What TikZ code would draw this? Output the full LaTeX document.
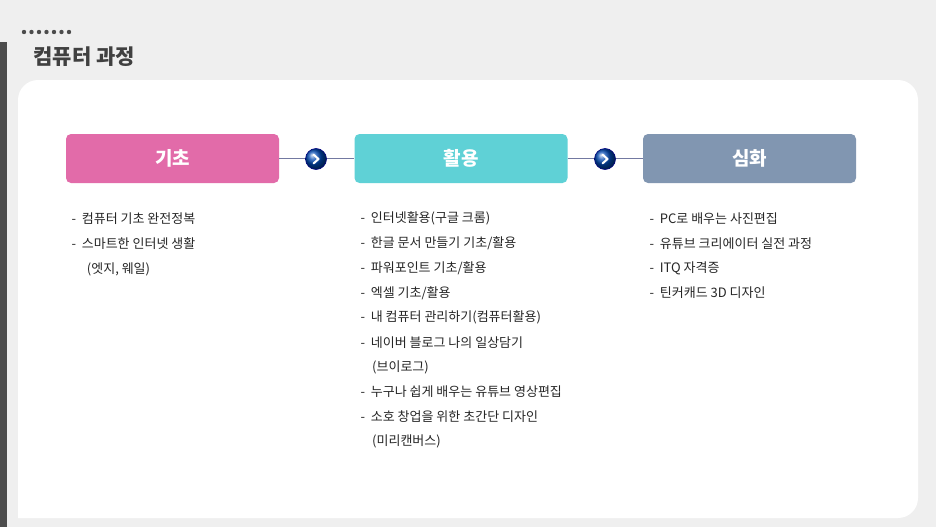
\documentclass[tikz,border=0pt]{standalone}
\usepackage{fontspec}
\setmainfont{Noto Sans CJK KR}
\begin{document}
\begin{tikzpicture}[x=1pt,y=-1pt,
  head/.style={rounded corners=5pt,minimum width=213pt,minimum height=49pt,text=white,font=\fontsize{19}{22}\selectfont\bfseries},
  item/.style={anchor=west,font=\fontsize{13}{15}\selectfont,text=black!85},
  conn/.style={draw=cyan!30!blue!40!gray,line width=1pt},
  go/.style={circle,minimum size=21pt,inner sep=0pt,draw=blue!50!black,line width=0.6pt,ball color=blue!60!cyan!70!black}]
\definecolor{bg}{HTML}{EFEFEF}
\definecolor{pk}{HTML}{E26BA9}
\definecolor{tl}{HTML}{5FD1D6}
\definecolor{gb}{HTML}{8196B1}
\fill[bg] (0,0) rectangle (936,527);
\useasboundingbox (0,0) rectangle (936,527);
\fill[black!70] (0,42) rectangle (7,527);
\fill[white,rounded corners=20pt] (18,518) -- (18,80) -- (918,80) -- (918,518) [sharp corners]-- cycle;
\foreach \i in {0,...,6} \fill[black!70] (24+7.5*\i,32) circle (2.2pt);
\node[anchor=west,font=\fontsize{21}{24}\selectfont\bfseries,text=black!75] (title) at (30,57) {컴퓨터 과정};
\node[head,fill=pk] (a) at (172.5,158.5) {기초};
\node[head,fill=tl] (b) at (461,158.5) {활용};
\node[head,fill=gb] (c) at (749.5,158.5) {심화};
\draw[conn] (a) -- (b);
\draw[conn] (b) -- (c);
\foreach \n/\x in {g1/316,g2/605}{
  \node[go] (\n) at (\x,159) {};
  \draw[white,line width=2pt,line cap=round,line join=round] ([xshift=-2.5pt,yshift=-4.5pt]\n.center) -- ([xshift=2.5pt]\n.center) -- ([xshift=-2.5pt,yshift=4.5pt]\n.center);
}
\node[item] (a1) at (68,219) {-\ \ 컴퓨터 기초 완전정복};
\node[item] (a2) at (68,244) {-\ \ 스마트한 인터넷 생활};
\node[item] (a3) at (80.5,269) {\ (엣지, 웨일)};
\foreach \t [count=\k] in {-\ \ 인터넷활용(구글 크롬),-\ \ 한글 문서 만들기 기초/활용,-\ \ 파워포인트 기초/활용,-\ \ 엑셀 기초/활용,-\ \ 내 컴퓨터 관리하기(컴퓨터활용),-\ \ 네이버 블로그 나의 일상담기,\ \ \ \ (브이로그),-\ \ 누구나 쉽게 배우는 유튜브 영상편집,-\ \ 소호 창업을 위한 초간단 디자인,\ \ \ \ (미리캔버스)}
  \node[item] (b\k) at (357,194+24.7*\k) {\t};
\foreach \t [count=\k] in {-\ \ PC로 배우는 사진편집,-\ \ 유튜브 크리에이터 실전 과정,-\ \ ITQ 자격증,-\ \ 틴커캐드 3D 디자인}
  \node[item] (c\k) at (646,194+24.7*\k) {\t};
\end{tikzpicture}
\end{document}
